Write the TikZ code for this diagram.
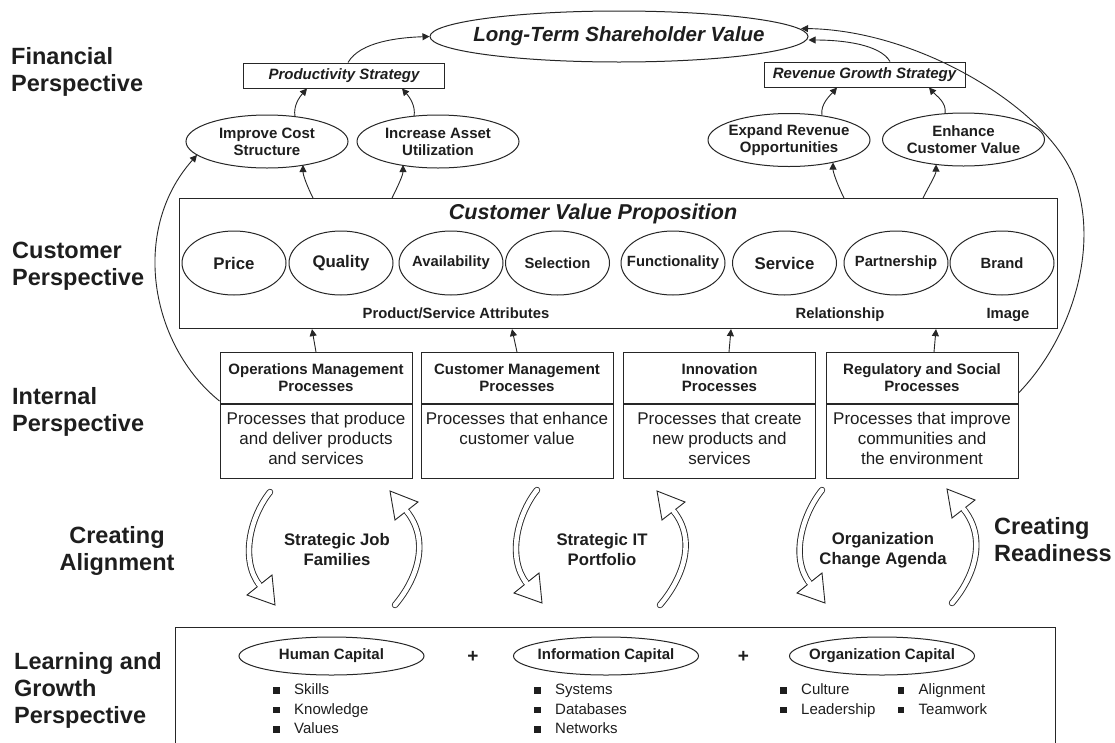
\documentclass[tikz,border=0pt]{standalone}
\usepackage{fontspec}
\setmainfont{Liberation Sans}
\usetikzlibrary{shapes.geometric,arrows.meta,calc}
\definecolor{ln}{HTML}{262626}
\definecolor{txt}{HTML}{1E1E1E}
\newcommand{\sqb}{\rule[1pt]{6.5pt}{6.5pt}\hspace{14.5pt}}
% tail, ctrl1, ctrl2, base-mid, tip, corner1, corner2
\newcommand{\hollowarr}[7]{%
  \draw[line width=0.9pt, draw=ln, double=white, double distance=4.6pt, line cap=round] #1 .. controls #2 and #3 .. #4;
  \draw[line width=0.9pt, draw=ln, fill=white, line join=miter] #6 -- #5 -- #7 -- cycle;
  \draw[white, line width=4.6pt] ($#4!-3pt!#5$) -- ($#4!1.2pt!#5$);
}
\begin{document}
\begin{tikzpicture}[x=1pt,y=-1pt,
  every node/.style={text=txt, inner sep=0pt},
  lab/.style={font=\fontsize{23.5}{27}\selectfont\bfseries, align=left, anchor=west},
  fell/.style={ellipse, draw=ln, line width=1pt, inner xsep=-12pt, minimum width=162pt, minimum height=53pt, font=\fontsize{15}{17}\selectfont\bfseries, align=center},
  sbox/.style={rectangle, draw=ln, line width=1pt, minimum width=201pt, minimum height=25pt, font=\fontsize{15}{17}\selectfont\bfseries\itshape},
  att/.style={ellipse, draw=ln, line width=1pt, inner xsep=-14pt, minimum width=104pt, minimum height=64pt, font=\fontsize{14.8}{17}\selectfont\bfseries},
  attbig/.style={att, font=\fontsize{16.8}{19}\selectfont\bfseries},
  attlab/.style={anchor=base, font=\fontsize{14.8}{17}\selectfont\bfseries},
  phead/.style={rectangle, draw=ln, line width=1pt, anchor=north, minimum width=192pt, minimum height=51pt, align=center, font=\fontsize{15}{17}\selectfont\bfseries},
  pbody/.style={rectangle, draw=ln, line width=1pt, anchor=north, minimum width=192pt, minimum height=74pt},
  ptext/.style={anchor=north, align=center, font=\fontsize{17}{20}\selectfont},
  arr/.style={draw=ln, line width=0.9pt, -{Triangle[length=7pt,width=7pt]}},
  clab/.style={align=center, font=\fontsize{16.7}{20}\selectfont\bfseries},
  capell/.style={ellipse, draw=ln, line width=1pt, inner xsep=-12pt, minimum width=185pt, minimum height=38pt, font=\fontsize{15}{17}\selectfont\bfseries},
  item/.style={anchor=base west, font=\fontsize{15}{17}\selectfont},
  plus/.style={font=\fontsize{19}{21}\selectfont\bfseries}
]
\fill[white] (0,0) rectangle (1115,742);
\useasboundingbox (0,0) rectangle (1115,742);

% ---------- perspective labels ----------
\node[lab] (lfin) at (11,72) {Financial\\Perspective};
\node[lab] (lcus) at (12,266) {Customer\\Perspective};
\node[lab] (lint) at (12,412) {Internal\\Perspective};
\node[lab, anchor=center, align=center] (lali) at (117,551) {Creating\\Alignment};
\node[lab] (llg) at (14,690) {Learning and\\Growth\\Perspective};
\node[lab] (lrea) at (994,540) {Creating\\Readiness};

% ---------- financial ----------
\node[ellipse, draw=ln, line width=1pt, inner xsep=-20pt, minimum width=378pt, minimum height=51pt,
      font=\fontsize{20.5}{23}\selectfont\bfseries\itshape] (ltsv) at (619,36.5) {Long-Term Shareholder Value};
\node[sbox] (prod) at (344,75.5) {Productivity Strategy};
\node[sbox] (rev) at (864.5,74.5) {Revenue Growth Strategy};
\node[fell] (ics) at (267,141.5) {Improve Cost\\Structure};
\node[fell] (iau) at (438,141.5) {Increase Asset\\Utilization};
\node[fell] (ero) at (789,140) {Expand Revenue\\Opportunities};
\node[fell] (ecv) at (963.5,139.5) {Enhance\\Customer Value};

\draw[arr] ($(ics.center)+(28,-25)$) .. controls +(-2,-11) and +(-7,8) .. ([xshift=-37pt]prod.south);
\draw[arr] ($(iau.center)+(-24,-25)$) .. controls +(2,-11) and +(7,8) .. ([xshift=58pt]prod.south);
\draw[arr] ($(ero.center)+(33,-24.6)$) .. controls +(-2,-11) and +(-7,8) .. ([xshift=-27.5pt]rev.south);
\draw[arr] ($(ecv.center)+(-18.5,-26)$) .. controls +(2,-11) and +(7,8) .. ([xshift=64.5pt]rev.south);
\draw[arr] ([xshift=4pt]prod.north) .. controls +(12,-21) and +(-30,1) .. (ltsv.west);
\draw[arr] ([xshift=25.5pt]rev.north) .. controls +(-10,-17) and +(35,0) .. ([yshift=-3.5pt]ltsv.east);

% ---------- customer ----------
\node[rectangle, draw=ln, line width=1.1pt, minimum width=878pt, minimum height=130pt, anchor=north west] (cvp) at (179,198) {};
\node[anchor=base, font=\fontsize{21.5}{24}\selectfont\bfseries\itshape] (cvpt) at (593,219) {Customer Value Proposition};
\node[attbig] (price) at (234,263) {Price};
\node[attbig] (qual) at (341,263) {Quality};
\node[att] (avail) at (451,263) {Availability};
\node[att] (sel) at (557.5,263) {Selection};
\node[att] (func) at (673,263) {Functionality};
\node[attbig] (serv) at (784.5,263) {Service};
\node[att] (part) at (896,263) {Partnership};
\node[att] (brand) at (1002,263) {Brand};
\node[attlab] (psa) at (456,318) {Product/Service Attributes};
\node[attlab] (rel) at (840,318) {Relationship};
\node[attlab] (img) at (1008,318) {Image};

\draw[arr] ($(cvp.north -| ics.south)+(46,0)$) .. controls +(-6,-12) and +(0,10) .. ($(ics.center)+(36,23.5)$);
\draw[arr] ($(cvp.north -| iau.south)+(-46,0)$) .. controls +(6,-12) and +(0,10) .. ($(iau.center)+(-35,23.5)$);
\draw[arr] ($(cvp.north -| ero.south)+(55,0)$) .. controls +(-6,-12) and +(0,10) .. ($(ero.center)+(44,22.5)$);
\draw[arr] ($(cvp.north -| ecv.south)+(-40.5,0)$) .. controls +(6,-12) and +(0,10) .. ($(ecv.center)+(-27.5,25)$);

% ---------- internal ----------
\node[phead] (opsh) at (316,352) {Operations Management\\Processes};
\node[pbody] (opsb) at (opsh.south) {};
\node[ptext] (opst) at ($(opsb.north)+(0,7.6)$) {Processes that produce\\and deliver products\\and services};

\node[phead] (cush) at (517,352) {Customer Management\\Processes};
\node[pbody] (cusb) at (cush.south) {};
\node[ptext] (cust) at ($(cusb.north)+(0,7.6)$) {Processes that enhance\\customer value};

\node[phead] (innh) at (719.5,352) {Innovation\\Processes};
\node[pbody] (innb) at (innh.south) {};
\node[ptext] (innt) at ($(innb.north)+(0,7.6)$) {Processes that create\\new products and\\services};

\node[phead] (regh) at (922,352) {Regulatory and Social\\Processes};
\node[pbody] (regb) at (regh.south) {};
\node[ptext] (regt) at ($(regb.north)+(0,7.6)$) {Processes that improve\\communities and\\the environment};

\draw[arr] (opsh.north) -- ($(opsh.north |- cvp.south)+(-4,0)$);
\draw[arr] (cush.north) -- ($(cush.north |- cvp.south)+(-5,0)$);
\draw[arr] ($(innh.north)+(9.5,0)$) -- ($(innh.north |- cvp.south)+(11.5,0)$);
\draw[arr] ($(regh.north)+(12,0)$) -- ($(regh.north |- cvp.south)+(14,0)$);

% big side arcs
\draw[arr] ([yshift=3pt]opsh.south west) .. controls (150,345) and (130,230) .. ($(ics.center)+(-70,13.5)$);
\draw[arr] ([yshift=11pt]regh.south east) .. controls (1070,340) and (1100,250) .. (1075,180)
           .. controls (1050,110) and (920,30) .. ($(ltsv.center)+(182,-8)$);

% ---------- alignment / readiness arrows ----------
\hollowarr{(270,492)}{(250,517)}{(240,560)}{(259.5,585)}{(275,605)}{(247,595)}{(272,575)}
\hollowarr{(395,605)}{(418,578)}{(430,540)}{(406.5,511)}{(390,491)}{(395,520)}{(418,502)}
\hollowarr{(537,490)}{(517,515)}{(507,558)}{(526.5,583)}{(542,603)}{(514,593)}{(539,573)}
\hollowarr{(660,605)}{(683,578)}{(697,540)}{(673.5,511)}{(657,491)}{(662,520)}{(685,502)}
\hollowarr{(822,490)}{(802,515)}{(790,558)}{(809.5,583)}{(825,603)}{(797,593)}{(822,573)}
\hollowarr{(952,603)}{(975,576)}{(987,538)}{(963.5,509)}{(947,489)}{(952,518)}{(975,500)}

\node[clab] (sjf) at (337,550) {Strategic Job\\Families};
\node[clab] (sit) at (602,550) {Strategic IT\\Portfolio};
\node[clab] (oca) at (883,550) {Organization\\Change Agenda};

% ---------- learning and growth ----------
\node[rectangle, draw=ln, line width=1.1pt, minimum width=880pt, minimum height=140pt, anchor=north west] (lg) at (175,627) {};
\node[capell] (hc) at (331.5,656) {Human Capital};
\node[capell] (ic) at (606,656) {Information Capital};
\node[capell] (oc) at (882,656) {Organization Capital};
\node[plus] (p1) at (473,657) {+};
\node[plus] (p2) at (743.5,657) {+};
\foreach \t [count=\i] in {Skills,Knowledge,Values}
  \node[item] (hc\i) at (273,{694.5+19.5*(\i-1)}) {\sqb\t};
\foreach \t [count=\i] in {Systems,Databases,Networks}
  \node[item] (ic\i) at (534,{694.5+19.5*(\i-1)}) {\sqb\t};
\foreach \t [count=\i] in {Culture,Leadership}
  \node[item] (oca\i) at (780,{694.5+19.5*(\i-1)}) {\sqb\t};
\foreach \t [count=\i] in {Alignment,Teamwork}
  \node[item] (ocb\i) at (897.5,{694.5+19.5*(\i-1)}) {\sqb\t};
\end{tikzpicture}
\end{document}
